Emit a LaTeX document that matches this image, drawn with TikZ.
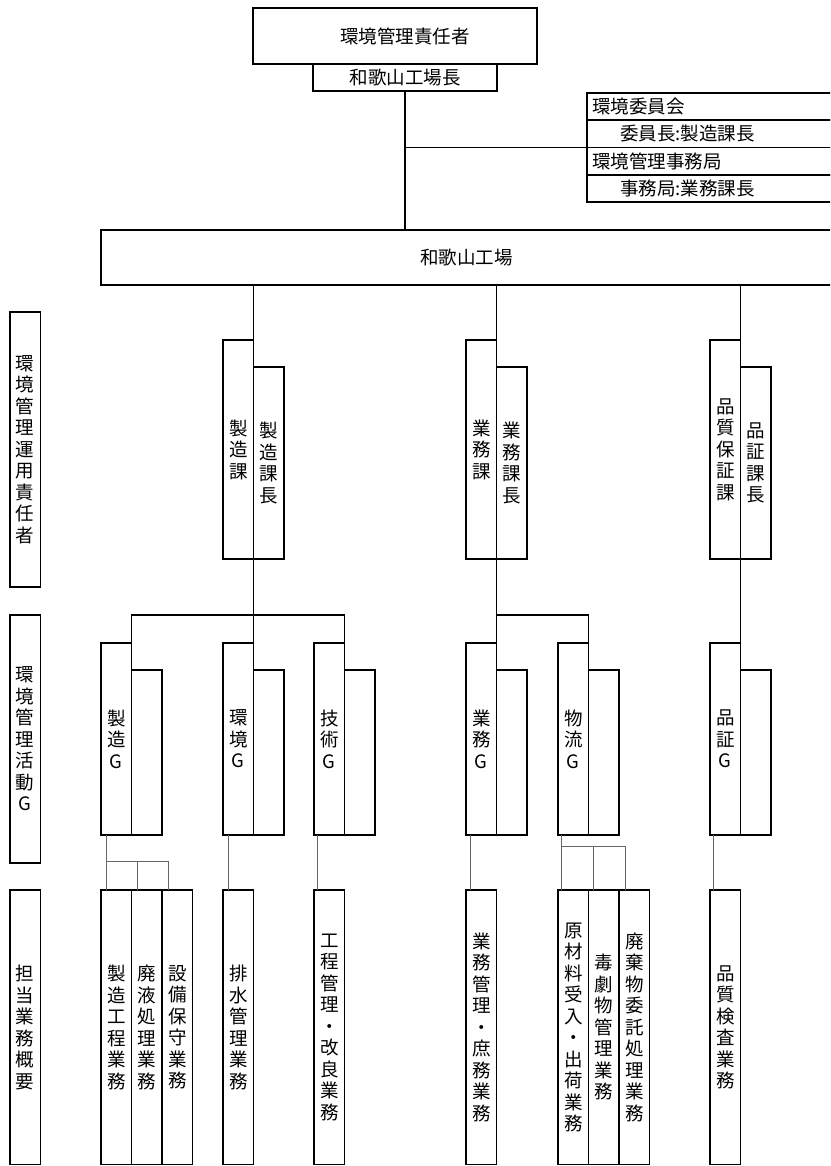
\documentclass[tikz,border=0pt]{standalone}
\usepackage{fontspec}
\newfontfamily\jpfont{Noto Sans CJK JP}
\usetikzlibrary{positioning}

\begin{document}
\begin{tikzpicture}[x=1pt,y=-1pt,
        box/.style={draw,line width=1.7pt,outer sep=0pt,inner sep=0pt,
          font=\jpfont\fontsize{18.5pt}{21.5pt}\selectfont},
        hbox/.style={box,align=center},
        rowbox/.style={box,minimum height=27.25pt,text width=239pt,inner xsep=5pt,align=left},
        tbox/.style={box,minimum width=30.5pt,align=center},
        link/.style={line width=1.7pt},
        thin link/.style={line width=0.9pt,black!60}]
        \useasboundingbox (0,0) rectangle (830,1166);
        \clip (0,0) rectangle (830,1166);

        % top
        \node[hbox,minimum width=284pt,minimum height=56pt,anchor=north west] (resp) at (253,8) {\hspace*{20pt}環境管理責任者};
        \node[hbox,minimum width=184pt,minimum height=27pt,anchor=north west] (gm) at (313,64) {和歌山工場長};
        \node[rowbox,anchor=north west] (com1) at (587,93) {環境委員会};
        \node[rowbox,below=0pt of com1] (com2) {\hspace*{28pt}委員長:製造課長};
        \node[rowbox,below=0pt of com2] (com3) {環境管理事務局};
        \node[rowbox,below=0pt of com3] (com4) {\hspace*{28pt}事務局:業務課長};
        \node[hbox,minimum width=731pt,minimum height=55pt,anchor=north west] (plant) at (101,230) {和歌山工場};

        % left column
        \node[tbox,minimum height=275pt,anchor=north west] (unyo) at (10,312) {環\\境\\管\\理\\運\\用\\責\\任\\者};
        \node[tbox,minimum height=248pt,anchor=north west] (katsudo) at (10,615) {環\\境\\管\\理\\活\\動\\G};
        \node[tbox,minimum height=274.5pt,anchor=north west] (gaiyo) at (10,890) {担\\当\\業\\務\\概\\要};

        % sections
        \node[tbox,minimum height=219pt,anchor=north west] (seizo) at (223,340) {製\\造\\課};
        \node[tbox,minimum height=192pt,anchor=south west] (seizoc) at (seizo.south east) {製\\造\\課\\長};
        \node[tbox,minimum height=219pt,anchor=north west] (gyomu) at (466,340) {業\\務\\課};
        \node[tbox,minimum height=192pt,anchor=south west] (gyomuc) at (gyomu.south east) {業\\務\\課\\長};
        \node[tbox,minimum height=219pt,anchor=north west] (hinsho) at (710,340) {品\\質\\保\\証\\課};
        \node[tbox,minimum height=192pt,anchor=south west] (hinshoc) at (hinsho.south east) {品\\証\\課\\長};

        % groups
        \node[tbox,minimum height=192pt,anchor=north west] (seizog) at (101,643) {製\\造\\G};
        \node[tbox,minimum height=165pt,anchor=south west] (seizog2) at (seizog.south east) {};
        \node[tbox,minimum height=192pt,anchor=north west] (kankyog) at (223,643) {環\\境\\G};
        \node[tbox,minimum height=165pt,anchor=south west] (kankyog2) at (kankyog.south east) {};
        \node[tbox,minimum height=192pt,anchor=north west] (gijutsug) at (314,643) {技\\術\\G};
        \node[tbox,minimum height=165pt,anchor=south west] (gijutsug2) at (gijutsug.south east) {};
        \node[tbox,minimum height=192pt,anchor=north west] (gyomug) at (466,643) {業\\務\\G};
        \node[tbox,minimum height=165pt,anchor=south west] (gyomug2) at (gyomug.south east) {};
        \node[tbox,minimum height=192pt,anchor=north west] (butsuryug) at (558,643) {物\\流\\G};
        \node[tbox,minimum height=165pt,anchor=south west] (butsuryug2) at (butsuryug.south east) {};
        \node[tbox,minimum height=192pt,anchor=north west] (hinshog) at (710,643) {品\\証\\G};
        \node[tbox,minimum height=165pt,anchor=south west] (hinshog2) at (hinshog.south east) {};

        % tasks
        \node[tbox,minimum height=274.5pt,anchor=north west] (kotei) at (101,890) {製\\造\\工\\程\\業\\務};
        \node[tbox,minimum height=274.5pt,anchor=north west] (haieki) at (kotei.north east) {廃\\液\\処\\理\\業\\務};
        \node[tbox,minimum height=274.5pt,anchor=north west] (setsubi) at (haieki.north east) {設\\備\\保\\守\\業\\務};
        \node[tbox,minimum height=274.5pt,anchor=north west] (haisui) at (223,890) {排\\水\\管\\理\\業\\務};
        \node[tbox,minimum height=274.5pt,anchor=north west] (kairyo) at (314,890) {工\\程\\管\\理\\・\\改\\良\\業\\務};
        \node[tbox,minimum height=274.5pt,anchor=north west] (shomu) at (466,890) {業\\務\\管\\理\\・\\庶\\務\\業\\務};
        \node[tbox,minimum height=274.5pt,anchor=north west] (genzai) at (558,890) {原\\材\\料\\受\\入\\・\\出\\荷\\業\\務};
        \node[tbox,minimum height=274.5pt,anchor=north west] (dokugeki) at (genzai.north east) {毒\\劇\\物\\管\\理\\業\\務};
        \node[tbox,minimum height=274.5pt,anchor=north west] (haiki) at (dokugeki.north east) {廃\\棄\\物\\委\\託\\処\\理\\業\\務};
        \node[tbox,minimum height=274.5pt,anchor=north west] (kensa) at (710,890) {品\\質\\検\\査\\業\\務};

        % connectors
        \coordinate (bar) at (0,615);
        \draw[link] (gm.south) -- (gm.south |- plant.north);
        \draw[link] (gm.south |- com3.north west) -- (com3.north west);
        \draw[link] (plant.south -| seizo.east) -- (kankyog.north east);
        \draw[link] (seizog.north east) -- (seizog.north east |- bar) -- (gijutsug.north east |- bar) -- (gijutsug.north east);
        \draw[link] (plant.south -| gyomu.east) -- (gyomug.north east);
        \draw[link] (gyomug.north east |- bar) -- (butsuryug.north east |- bar) -- (butsuryug.north east);
        \draw[link] (plant.south -| hinsho.east) -- (hinshog.north east);

        \draw[thin link] ([xshift=5pt]seizog.south west) -- ([xshift=5pt]kotei.north west);
        \draw[thin link] ([xshift=5pt]kotei.north west) -- ++(0,-29) -| ([xshift=6pt]setsubi.north west);
        \draw[thin link] ([xshift=6pt]haieki.north west) -- ++(0,-29);
        \draw[thin link] ([xshift=5pt]kankyog.south west) -- ([xshift=5pt]haisui.north west);
        \draw[thin link] ([xshift=3pt]gijutsug.south west) -- ([xshift=3pt]kairyo.north west);
        \draw[thin link] ([xshift=4pt]gyomug.south west) -- ([xshift=4pt]shomu.north west);
        \draw[thin link] ([xshift=3pt]butsuryug.south west) -- ([xshift=3pt]genzai.north west);
        \draw[thin link] ([xshift=3pt]genzai.north west) -- ++(0,-44) -| ([xshift=6pt]haiki.north west);
        \draw[thin link] ([xshift=5pt]dokugeki.north west) -- ++(0,-44);
        \draw[thin link] ([xshift=3pt]hinshog.south west) -- ([xshift=3pt]kensa.north west);
\end{tikzpicture}
\end{document}
